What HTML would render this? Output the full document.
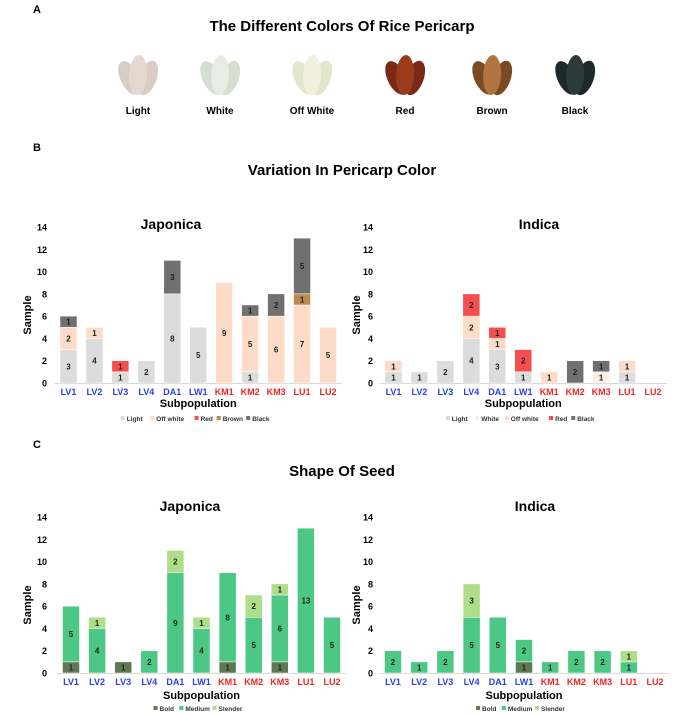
<!DOCTYPE html>
<html><head><meta charset="utf-8"><style>
html,body{margin:0;padding:0;background:#fff}
svg{display:block;font-family:"Liberation Sans",Arial,sans-serif}
</style></head><body>
<svg id="s" width="685" height="714" viewBox="0 0 685 714" xmlns="http://www.w3.org/2000/svg">
<text x="33" y="13" font-size="11" font-weight="bold">A</text>
<text x="342" y="31" font-size="15" font-weight="bold" text-anchor="middle">The Different Colors Of Rice Pericarp</text>
<text x="33" y="151" font-size="11" font-weight="bold">B</text>
<text x="342" y="175" font-size="15" font-weight="bold" text-anchor="middle">Variation In Pericarp Color</text>
<text x="33" y="448" font-size="11" font-weight="bold">C</text>
<text x="342" y="476" font-size="15" font-weight="bold" text-anchor="middle">Shape Of Seed</text>
<g id="grains"></g>
<g id="charts"></g>
</svg>
<script>
const cats=["LV1","LV2","LV3","LV4","DA1","LW1","KM1","KM2","KM3","LU1","LU2"];
const catColors=["#2b3ff0","#2b3ff0","#2b3ff0","#2b3ff0","#2b3ff0","#2b3ff0","#f22424","#f22424","#f22424","#f22424","#f22424"];
const yTicks=[0,2,4,6,8,10,12,14];
// Pericarp Japonica: Light, Off white, Red, Brown, Black
const jpSeries=["Light","Off white","Red","Brown","Black"];
const jpLight=[3,4,1,2,8,5,0,1,0,0,0];
const jpOff=[2,1,0,0,0,0,9,5,6,7,5];
const jpRed=[0,0,1,0,0,0,0,0,0,0,0];
const jpBrown=[0,0,0,0,0,0,0,0,0,1,0];
const jpBlack=[1,0,0,0,3,0,0,1,2,5,0];
// Pericarp Indica: Light, White, Off white, Red, Black
const inSeries=["Light","White","Off white","Red","Black"];
const inLight=[1,1,2,4,3,1,0,0,0,1,0];
const inWhite=[0,0,0,0,0,0,0,0,1,0,0];
const inOff=[1,0,0,2,1,0,1,0,0,1,0];
const inRed=[0,0,0,2,1,2,0,0,0,0,0];
const inBlack=[0,0,0,0,0,0,0,2,1,0,0];
// Shape: Bold, Medium, Slender
const shSeries=["Bold","Medium","Slender"];
const sjBold=[1,0,1,0,0,0,1,0,1,0,0];
const sjMed=[5,4,0,2,9,4,8,5,6,13,5];
const sjSlen=[0,1,0,0,2,1,0,2,1,0,0];
const siBold=[0,0,0,0,0,1,0,0,0,0,0];
const siMed=[2,1,2,5,5,2,1,2,2,1,0];
const siSlen=[0,0,0,3,0,0,0,0,0,1,0];

const grainNames=["Light","White","Off White","Red","Brown","Black"];
const NS="http://www.w3.org/2000/svg";
function el(tag,attrs,parent,txt){const e=document.createElementNS(NS,tag);for(const k in attrs)e.setAttribute(k,attrs[k]);if(txt!==undefined)e.textContent=txt;parent.appendChild(e);return e;}

const gg=document.getElementById('grains');
const gx=[138,220,312,405,492,575];
const gcol=[["#d8ccc4","#e4d8d0"],["#d8ddd2","#e8ece4"],["#e4e6cc","#f0f0dc"],["#7a2a14","#9a3c1c"],["#7a4a22","#b07440"],["#1c2a2c","#2c3a3c"]];
grainNames.forEach((n,i)=>{
  const g=el('g',{},gg);
  
  
  const cx=gx[i],cy=77;
  el('ellipse',{cx:cx-9,cy:cy+1,rx:9,ry:18,fill:gcol[i][0],transform:`rotate(-25 ${cx-9} ${cy})`},g);
  el('ellipse',{cx:cx+10,cy:cy+1,rx:9,ry:18,fill:gcol[i][0],transform:`rotate(20 ${cx+10} ${cy})`},g);
  el('ellipse',{cx:cx,cy:cy-2,rx:9,ry:20,fill:gcol[i][1],transform:`rotate(3 ${cx} ${cy})`},g);
  const t=el('text',{x:cx,y:114,'font-size':10,'font-weight':'bold','text-anchor':'middle'},gg,n);
  
  
});

const ch=document.getElementById('charts');
function chart(o){
  const g=el('g',{},ch);
  
  
  const y=v=>o.y0-v*(o.y0-o.y14)/14;
  const x=i=>o.x0+i*o.pitch;
  const t=el('text',{x:o.tx,y:o.tY,'font-size':14,'font-weight':'bold','text-anchor':'middle'},g,o.title);
  
  
  yTicks.forEach(v=>{
    const tt=el('text',{x:o.tickX,y:y(v)+3.5,'font-size':9,'font-weight':'bold','text-anchor':'end'},g,v);
    
    
  });
  const yl=el('text',{x:0,y:0,'font-size':11,'font-weight':'bold','text-anchor':'middle',transform:`translate(${o.ylx},${(o.y0+o.y14)/2+10}) rotate(-90)`},g,'Sample');
  
  
  const ax=el('line',{x1:x(0)-14,x2:x(10)+14,y1:o.y0+0.5,y2:o.y0+0.5,stroke:'#d8d8d8','stroke-width':1},g);
  
  
  cats.forEach((c,i)=>{
    let acc=0;
    o.series.forEach((s,k)=>{
      const v=s[i];if(!v)return;
      const r=el('rect',{x:x(i)-o.bw/2,y:y(acc+v),width:o.bw,height:y(acc)-y(acc+v),fill:o.colors[k],stroke:'#fff','stroke-width':0.5},g);
      
      
      const lb=el('text',{x:x(i),y:(y(acc)+y(acc+v))/2+3,'font-size':8,'font-weight':'bold','text-anchor':'middle',fill:'#222'},g,v);
      
      
      acc+=v;
    });
    const cl=el('text',{x:x(i),y:o.y0+12,'font-size':9,'font-weight':'bold','text-anchor':'middle',fill:catColors[i]},g,c);
    
    
  });
  const xt=el('text',{x:(x(0)+x(10))/2,y:o.subY,'font-size':11,'font-weight':'bold','text-anchor':'middle'},g,'Subpopulation');
  
  
  const widths=o.names.map(n=>n.length*3.7+11);
  const tot=widths.reduce((a,b)=>a+b,0);
  let lx=(x(0)+x(10))/2-tot/2;
  o.names.forEach((n,k)=>{
    const lg=el('g',{},g);
    
    
    el('rect',{x:lx,y:o.legY-5,width:4,height:4,fill:o.colors[k]},lg);
    el('text',{x:lx+6,y:o.legY,'font-size':6.5,'font-weight':'bold',fill:'#333'},lg,n);
    lx+=widths[k];
  });
}
const cB=["#dcdcdc","#fcdcc8","#f44e4e","#b88a4e","#707070"];
const cBi=["#dcdcdc","#fbeee6","#fcdcc8","#f44e4e","#707070"];
const cC=["#5e7a55","#4cc884","#afde88"];
chart({name:'chart-japonica-color',title:'Japonica',tx:171,tY:229,y0:383,y14:227,x0:68.5,pitch:25.95,bw:17,tickX:47,ylx:31,subY:407,legY:421,series:[jpLight,jpOff,jpRed,jpBrown,jpBlack],names:jpSeries,colors:cB});
chart({name:'chart-indica-color',title:'Indica',tx:539,tY:229,y0:383,y14:227,x0:393.5,pitch:25.95,bw:17,tickX:373,ylx:360,subY:407,legY:421,series:[inLight,inWhite,inOff,inRed,inBlack],names:inSeries,colors:cBi});
chart({name:'chart-japonica-shape',title:'Japonica',tx:190,tY:511,y0:673,y14:517,x0:71,pitch:26.1,bw:17,tickX:47,ylx:31,subY:699,legY:711,series:[sjBold,sjMed,sjSlen],names:shSeries,colors:cC});
chart({name:'chart-indica-shape',title:'Indica',tx:535,tY:511,y0:673,y14:517,x0:393,pitch:26.2,bw:17,tickX:373,ylx:360,subY:699,legY:711,series:[siBold,siMed,siSlen],names:shSeries,colors:cC});
</script>
</body></html>
